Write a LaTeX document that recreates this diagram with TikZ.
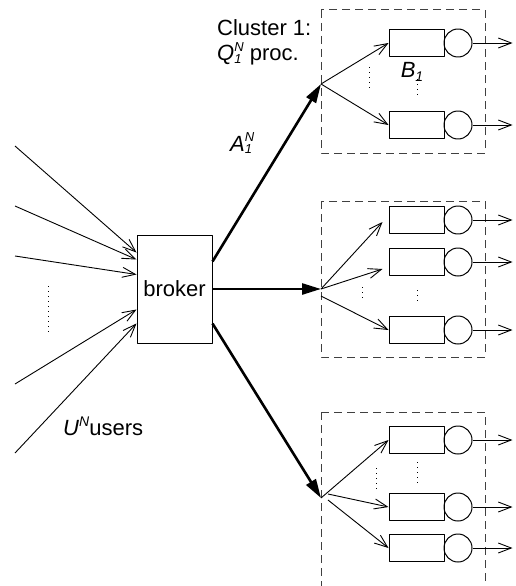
\documentclass[tikz,border=0pt]{standalone}
\usepackage{fontspec}
\setmainfont{Liberation Sans}
\usetikzlibrary{arrows.meta,calc}

% italic letter with a superscript and a subscript
\newcommand{\supsub}[3]{\textit{#1}\makebox[0pt][l]{\raisebox{-0.25ex}{\fontsize{13}{13}\selectfont\textit{#3}}}\raisebox{0.8ex}{\fontsize{13}{13}\selectfont\textit{#2}}}

\tikzset{
  queue/.style={draw, line width=1pt, minimum width=55pt, minimum height=27pt, inner sep=0pt},
  server/.style={draw, line width=1pt, circle, minimum size=28pt, inner sep=0pt},
  thin/.style={line width=0.9pt, -{Straight Barb[length=13pt,width=10pt,line width=0.9pt]}},
  thick/.style={line width=2.6pt, -{Triangle[length=19pt,width=11pt]}},
  cluster/.style={draw=black!75, line width=1pt, dash pattern=on 8pt off 5pt},
  dots/.style={line width=1pt, dash pattern=on 1pt off 4pt}
}

\begin{document}
\begin{tikzpicture}[x=1pt, y=-1pt, font=\fontsize{22}{26}\selectfont, line join=round]
  \useasboundingbox (0,0) rectangle (516,586);

  % the broker
  \node[draw, line width=1pt, minimum width=75pt, minimum height=108pt, inner sep=0pt] (broker) at (174.5,289) {broker};

  % users sending jobs
  \coordinate (u1) at (15,146);
  \coordinate (u2) at (15,206);
  \coordinate (u3) at (15,256);
  \coordinate (u4) at (15,384);
  \coordinate (u5) at (15,453);
  \draw[thin] (u1) -- ([yshift=-18pt]broker.north west);
  \draw[thin] (u2) -- ([yshift=-25pt]broker.north west);
  \draw[thin] (u3) -- ([yshift=-40pt]broker.north west);
  \draw[thin] (u4) -- ([yshift=-75pt]broker.north west);
  \draw[thin] (u5) -- ([yshift=-89pt]broker.north west);
  \draw[dots] (48,286) -- (48,334);
  \node[anchor=base west, inner sep=0pt] (users) at (63,435) {\textit{U}\raisebox{0.7ex}{\fontsize{14}{14}\selectfont\textit{N}}users};

  % clusters
  \draw[cluster] (321,10) rectangle (485,153);
  \draw[cluster] (321,201) rectangle (485,357);
  \draw[cluster] (321,412) -- (321,590) (321,412) -- (485,412) -- (485,590);

  \node[anchor=base west, inner sep=0pt] (clname) at (217,36) {Cluster 1:};
  \node[anchor=base west, inner sep=0pt] (clproc) at (217,61) {\supsub{Q}{N}{1}\ proc.};

  % fork points of the clusters
  \coordinate (f1) at (321,84);
  \coordinate (f2) at (321,289);
  \coordinate (f3) at (321,498);

  % broker to the clusters
  \draw[thick] ([yshift=-27pt]broker.north east) -- (f1);
  \draw[thick] (broker.east) -- (f2);
  \draw[thick] ([yshift=20pt]broker.south east) -- (f3);
  \node[anchor=base west, inner sep=0pt] (arate) at (230,151) {\supsub{A}{N}{1}};

  % queues and servers
  \foreach \n/\y in {11/43, 12/125, 21/220, 22/262, 23/330, 31/440, 32/507, 33/548}{
    \node[queue] (q\n) at (416.5,\y) {};
    \node[server] (s\n) at (458,\y) {};
    \draw[thin] (s\n.east) -- ++(40,0);
  }

  % cluster 1
  \draw[thin] (f1) -- (q11.west);
  \draw[thin] (f1) -- (q12.west);
  \draw[dots] (369,67) -- (369,88);
  \draw[dots] (417,79) -- (417,95);
  \node (buf) at (412,72) {\textit{B}\raisebox{-0.4ex}{\fontsize{14}{14}\selectfont\textit{1}}};

  % cluster 2
  \draw[thin] (f2) -- ([xshift=-6pt,yshift=-2pt]q21.west);
  \draw[thin] (f2) -- ([xshift=-6pt,yshift=-7pt]q22.west);
  \draw[thin] ([yshift=-7pt]f2) -- (q23.west);
  \draw[dots] (362,287) -- (362,299);
  \draw[dots] (417,290) -- (417,303);

  % cluster 3
  \draw[thin] (f3) -- (q31.west);
  \draw[thin] ([xshift=7pt,yshift=4pt]f3) -- (q32.west);
  \draw[thin] ([xshift=7pt,yshift=-2pt]f3) -- (q33.west);
  \draw[dots] (376,468) -- (376,490);
  \draw[dots] (417,462) -- (417,484);
\end{tikzpicture}
\end{document}
